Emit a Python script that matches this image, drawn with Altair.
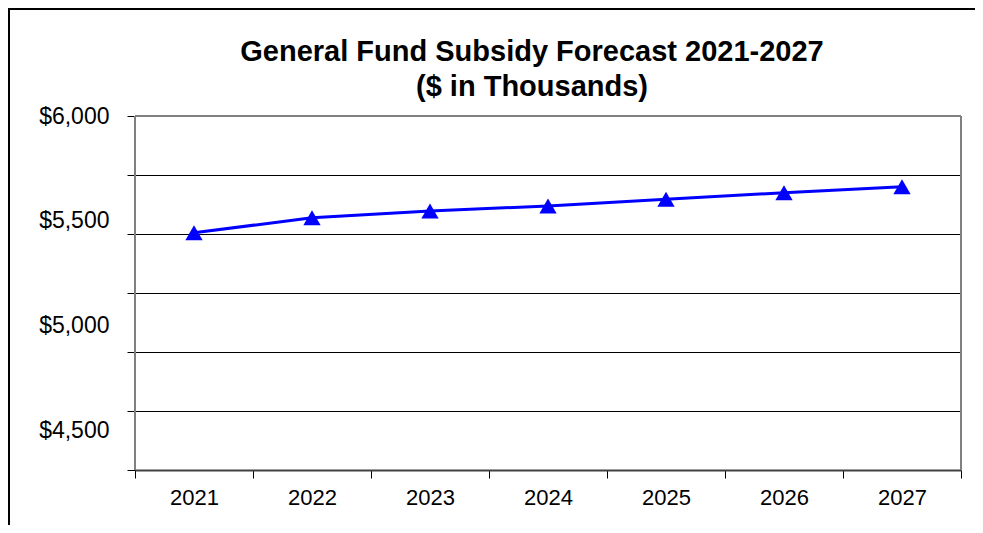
import altair as alt
import pandas as pd

# ---- data ----
years = ["2021", "2022", "2023", "2024", "2025", "2026", "2027"]
subsidy = [5505, 5569, 5597, 5619, 5647, 5675, 5700]

# y-axis label texts as printed in the reference, and the values where they appear
y_label_text = ["$6,000", "$5,500", "$5,000", "$4,500"]
y_label_at = [6000, 5559, 5114, 4669]
grid_values = [4500, 4750, 5000, 5250, 5500, 5750, 6000]

df = pd.DataFrame({"year": years, "subsidy": subsidy})

FONT = "Liberation Sans"
W, H = 826, 354

label_expr = " : ".join(
    f"datum.value === {v} ? '{t}'" for v, t in zip(y_label_at, y_label_text)
) + " : ''"

x_enc = alt.X(
    "year:N",
    sort=years,
    scale=alt.Scale(type="band", paddingInner=0, paddingOuter=0),
    axis=alt.Axis(
        title=None,
        labelAngle=0,
        labelFont=FONT,
        labelFontSize=22,
        labelColor="black",
        labelPadding=9,
        tickBand="extent",
        tickSize=8,
        tickColor="black",
        tickWidth=1,
        domainColor="#404040",
        domainWidth=2,
        grid=False,
    ),
)

y_enc = alt.Y(
    "subsidy:Q",
    scale=alt.Scale(domain=[4500, 6000], nice=False, zero=False),
    axis=alt.Axis(
        title=None,
        values=sorted(set(grid_values + y_label_at)),
        labelExpr=label_expr,
        labelFont=FONT,
        labelFontSize=23,
        labelColor="black",
        labelPadding=18,
        labelOverlap=False,
        labelFlush=False,
        labelBound=False,
        tickSize=8,
        tickColor="black",
        tickWidth=1,
        tickOpacity={"condition": {"test": "datum.value % 250 === 0", "value": 1}, "value": 0},
        grid=True,
        gridColor="black",
        gridWidth=1,
        gridOpacity={
            "condition": {
                "test": "datum.value % 250 === 0 && datum.value > 4500 && datum.value < 6000",
                "value": 1,
            },
            "value": 0,
        },
        domain=False,
    ),
)

base = alt.Chart(df)

line = base.mark_line(color="#0000FF", strokeWidth=3).encode(x=x_enc, y=y_enc)
points = base.mark_point(
    shape="triangle-up", filled=True, size=300, color="#0000FF", opacity=1
).encode(x=x_enc, y=y_enc)

one = alt.Chart(alt.Data(values=[{}]))
# outer chart frame (top and left edges visible in the reference)
frame_left = one.mark_rule(color="black", strokeWidth=2).encode(
    x=alt.value(-126), y=alt.value(-107), y2=alt.value(H + 60)
)
frame_top = one.mark_rule(color="black", strokeWidth=2).encode(
    x=alt.value(-127), x2=alt.value(W + 30), y=alt.value(-107)
)
# grey plot-area border
border_left = one.mark_rule(color="#808080", strokeWidth=2).encode(
    x=alt.value(0), y=alt.value(0), y2=alt.value(H)
)
border_right = one.mark_rule(color="#808080", strokeWidth=2).encode(
    x=alt.value(W), y=alt.value(0), y2=alt.value(H)
)
border_top = one.mark_rule(color="#808080", strokeWidth=2).encode(
    x=alt.value(0), x2=alt.value(W), y=alt.value(0)
)

chart = (
    alt.layer(frame_left, frame_top, border_left, border_right, border_top, line, points)
    .properties(
        width=W,
        height=H,
        autosize=alt.AutoSizeParams(type="none"),
        padding={"left": 127, "top": 108, "right": 14, "bottom": 55},
        title=alt.TitleParams(
            text=["General Fund Subsidy Forecast 2021-2027", "($ in Thousands)"],
            font=FONT,
            fontSize=29,
            fontWeight="bold",
            color="black",
            lineHeight=35,
            anchor="middle",
            dx=-16,
            offset=-94,
        ),
    )
    .configure_view(stroke=None)
    .configure(background="white")
)

chart.save("out.html", embed_options={"renderer": "svg", "actions": False})
